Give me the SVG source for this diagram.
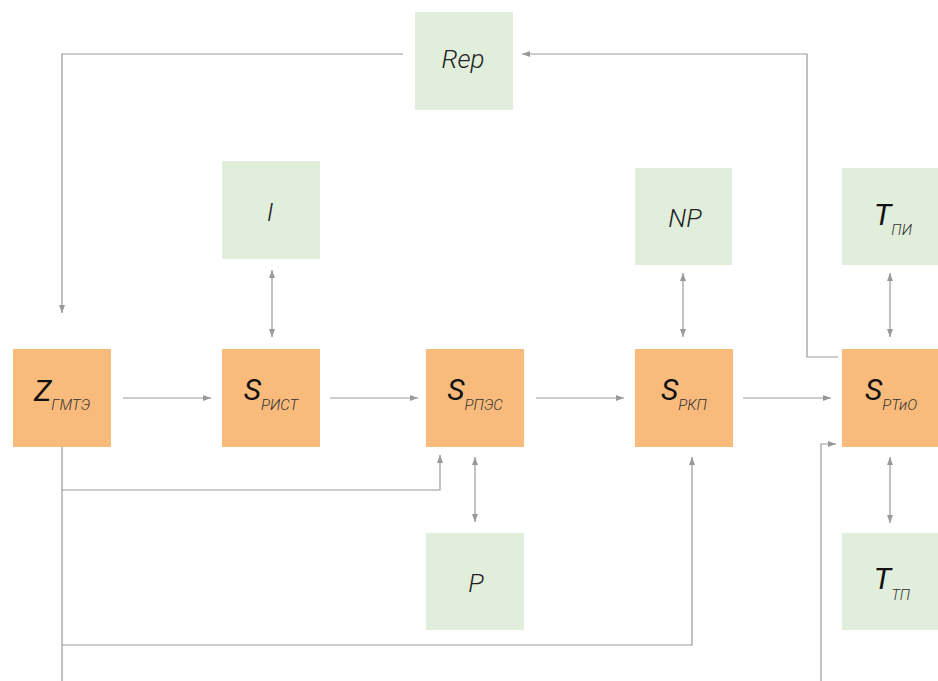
<svg xmlns="http://www.w3.org/2000/svg" width="938" height="681" viewBox="0 0 938 681">
  <defs>
    <marker id="arrow" viewBox="0 0 8 6" refX="8" refY="3" markerWidth="8" markerHeight="6" markerUnits="userSpaceOnUse" orient="auto-start-reverse">
      <path d="M0,0 L8,3 L0,6 z" fill="#999"/>
    </marker>
    <style>
      .stage { fill: #f9bb7c; }
      .factor { fill: #e2eedc; }
      .main { font-family: Roboto, "Liberation Sans", sans-serif; font-style: italic; font-size: 30px; fill: #111; }
      .sub { font-size: 15px; font-weight: 300; fill: #333; }
      .label { font-family: Roboto, "Liberation Sans", sans-serif; font-style: italic; font-weight: 300; font-size: 26px; fill: #222; }
      .link { fill: none; stroke: #999; stroke-width: 1.2; }
      .one { marker-end: url(#arrow); }
      .two { marker-start: url(#arrow); marker-end: url(#arrow); }
    </style>
  </defs>
  <rect width="938" height="681" fill="#fff"/>

  <!-- connectors -->
  <g id="connectors">
    <path class="link one" d="M123,398 H211"/>
    <path class="link one" d="M330,398 H418"/>
    <path class="link one" d="M536,398 H624"/>
    <path class="link one" d="M743,398 H831"/>
    <path class="link two" d="M272,270 V337"/>
    <path class="link two" d="M683,273 V337"/>
    <path class="link two" d="M890,273 V337"/>
    <path class="link two" d="M475,457 V522"/>
    <path class="link two" d="M890,457 V523"/>
    <path class="link one" d="M403,54 H62 V313"/>
    <path class="link one" d="M838,357 H807 V54 H522"/>
    <path class="link one" d="M821,681 V444 H836"/>
    <path class="link" d="M62,433 V681"/>
    <path class="link one" d="M62,490 H440 V455"/>
    <path class="link one" d="M62,645 H692 V457"/>
  </g>

  <!-- stages -->
  <g id="z-gmte">
    <rect class="stage" x="13" y="349" width="98" height="98"/>
    <text class="main" x="62" y="401" text-anchor="middle">Z<tspan class="sub" dy="9">ГМТЭ</tspan></text>
  </g>
  <g id="s-rist">
    <rect class="stage" x="222" y="349" width="98" height="98"/>
    <text class="main" x="271" y="400" text-anchor="middle">S<tspan class="sub" dy="10">РИСТ</tspan></text>
  </g>
  <g id="s-rpes">
    <rect class="stage" x="426" y="349" width="98" height="98"/>
    <text class="main" x="475" y="400" text-anchor="middle">S<tspan class="sub" dy="10">РПЭС</tspan></text>
  </g>
  <g id="s-rkp">
    <rect class="stage" x="635" y="349" width="98" height="98"/>
    <text class="main" x="684" y="400" text-anchor="middle">S<tspan class="sub" dy="10">РКП</tspan></text>
  </g>
  <g id="s-rtio">
    <rect class="stage" x="842" y="349" width="96" height="98"/>
    <text class="main" x="891" y="400" text-anchor="middle">S<tspan class="sub" dy="10">РТиО</tspan></text>
  </g>

  <!-- factors -->
  <g id="rep">
    <rect class="factor" x="415" y="12" width="98" height="98"/>
    <text class="label" x="463" y="68" text-anchor="middle">Rep</text>
  </g>
  <g id="i">
    <rect class="factor" x="222" y="161" width="98" height="98"/>
    <text class="label" x="270" y="221" text-anchor="middle">I</text>
  </g>
  <g id="np">
    <rect class="factor" x="635" y="168" width="97" height="97"/>
    <text class="label" x="685" y="227" text-anchor="middle">NP</text>
  </g>
  <g id="t-pi">
    <rect class="factor" x="842" y="168" width="96" height="97"/>
    <text class="main" x="893" y="225" text-anchor="middle">T<tspan class="sub" dy="10">ПИ</tspan></text>
  </g>
  <g id="p">
    <rect class="factor" x="426" y="533" width="98" height="97"/>
    <text class="label" x="476" y="592" text-anchor="middle">P</text>
  </g>
  <g id="t-tp">
    <rect class="factor" x="842" y="533" width="96" height="97"/>
    <text class="main" x="892" y="589" text-anchor="middle">T<tspan class="sub" dy="11">ТП</tspan></text>
  </g>
</svg>
